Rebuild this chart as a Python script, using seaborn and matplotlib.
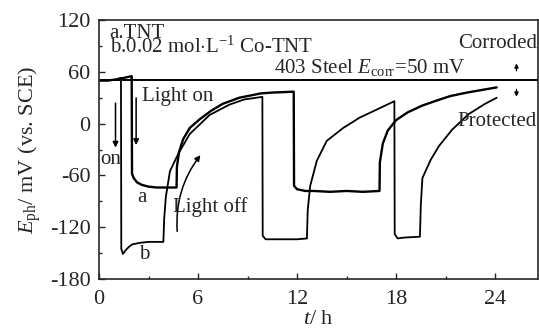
import matplotlib
matplotlib.use("Agg")
import matplotlib.pyplot as plt
import seaborn as sns
import pandas as pd

# ---- data ----
t_a = [0, 0.5, 1.0, 1.5, 1.98, 2.0, 2.1, 2.3, 2.6, 3.0, 3.5, 4.0, 4.7,
       4.72, 4.85, 5.1, 5.5, 6.1, 6.8, 7.5, 8.5, 9.8, 10.5, 11.8,
       11.82, 12.0, 12.5, 13.0, 14.0, 15.0, 16.0, 17.0,
       17.02, 17.2, 17.5, 18.0, 18.7, 19.6, 20.5, 21.3, 22.3, 23.2, 24.1]
E_a = [50, 50, 51, 53, 55, -58, -63, -68, -71, -73, -74, -74, -74,
       -50, -33, -18, -5, 5, 15, 23, 30, 35, 36, 37,
       -72, -76, -78, -78, -79, -78, -79, -78,
       -45, -23, -8, 4, 13, 21, 27, 32, 36, 39, 42]

t_b = [0, 0.5, 1.0, 1.33, 1.35, 1.45, 1.6, 1.8, 2.0, 2.5, 3.0, 3.9,
       3.95, 4.05, 4.3, 4.8, 5.5, 6.7, 7.9, 8.8, 9.9,
       9.92, 10.1, 11.0, 12.0, 12.6,
       12.65, 12.8, 13.2, 13.8, 14.8, 15.8, 16.8, 17.9,
       17.92, 18.1, 18.5, 19.45,
       19.5, 19.6, 20.1, 20.6, 21.4, 22.4, 23.4, 24.1]
E_b = [50, 50, 51, 53, -145, -151, -147, -143, -140, -138, -137, -137,
       -110, -85, -55, -35, -12, 10, 22, 28, 31,
       -130, -134, -134, -134, -133,
       -100, -72, -43, -20, -5, 7, 16, 26,
       -128, -133, -132, -131,
       -95, -63, -42, -26, -7, 11, 23, 30]

E_corr = 50

xticks = [0, 6, 12, 18, 24]
yticks = [-180, -120, -60, 0, 60, 120]

df = pd.concat([
    pd.DataFrame({"t": t_a, "E": E_a, "curve": "a"}),
    pd.DataFrame({"t": t_b, "E": E_b, "curve": "b"}),
], ignore_index=True)

# ---- style ----
sns.set_style("ticks")
plt.rcParams["font.family"] = ["Liberation Serif", "DejaVu Serif"]
plt.rcParams["mathtext.fontset"] = "custom"
plt.rcParams["mathtext.rm"] = "Liberation Serif"
plt.rcParams["mathtext.it"] = "Liberation Serif:italic"
plt.rcParams["axes.unicode_minus"] = False
plt.rcParams["xtick.direction"] = "in"
plt.rcParams["ytick.direction"] = "in"

fig = plt.figure(figsize=(5.39, 3.29), dpi=100)
ax = fig.add_axes([0.1837, 0.152, 0.8143, 0.787])

sns.lineplot(data=df[df.curve == "a"], x="t", y="E", sort=False, estimator=None,
             color="black", lw=1.7, ax=ax)
sns.lineplot(data=df[df.curve == "b"], x="t", y="E", sort=False, estimator=None,
             color="black", lw=1.3, ax=ax)
ax.axhline(E_corr, color="black", lw=1.4)

ax.set_xlim(0, 26.6)
ax.set_ylim(-180, 120)
ax.set_xticks(xticks)
ax.set_yticks(yticks)
ax.set_xticks([3, 9, 15, 21], minor=True)
ax.set_yticks([-150, -90, -30, 30, 90], minor=True)
ax.tick_params(which="major", length=4, width=1, labelsize=16)
ax.tick_params(axis="y", which="major", pad=6)
ax.tick_params(axis="x", which="major", pad=8)
ax.tick_params(which="minor", length=2.5, width=1)
for s in ax.spines.values():
    s.set_linewidth(1.2)

ax.set_xlabel(r"$t$/ h", fontsize=16, labelpad=1)
ax.set_ylabel(r"$E_{\mathrm{ph}}$/ mV (vs. SCE)", fontsize=16, labelpad=5)

fs = 15
ax.text(0.65, 82, "a.TNT\n" + r"b.0.02 mol$\cdot$L$^{-1}$ Co-TNT", fontsize=15,
        va="baseline", ha="left", linespacing=0.62)
ax.text(16.4, 59, r"403 Steel $E_{\mathrm{corr}}$=50 mV", fontsize=fs, ha="center", va="baseline")
ax.text(26.55, 93, "Corroded", fontsize=fs, ha="right", va="center")
ax.text(26.55, 2, "Protected", fontsize=fs, ha="right", va="center")
ax.text(2.6, 31, "Light on", fontsize=fs, ha="left", va="center")
ax.text(0.1, -42, "on", fontsize=fs, ha="left", va="center")
ax.text(4.5, -97, "Light off", fontsize=fs, ha="left", va="center")
ax.text(2.3, -86, "a", fontsize=fs, ha="left", va="center")
ax.text(2.45, -152, "b", fontsize=fs, ha="left", va="center")

arr = dict(arrowstyle="-|>", color="black", lw=1.1, mutation_scale=8)
ax.annotate("", xy=(1.0, -31), xytext=(1.0, 27), arrowprops=arr)
ax.annotate("", xy=(2.25, -28), xytext=(2.25, 33), arrowprops=arr)
ax.annotate("", xy=(6.25, -34), xytext=(4.75, -128),
            arrowprops=dict(arrowstyle="-|>", color="black", lw=1.1, mutation_scale=8,
                            connectionstyle="arc3,rad=-0.2"))
small = dict(arrowstyle="-|>", color="black", lw=0.9, mutation_scale=6)
ax.annotate("", xy=(25.3, 73), xytext=(25.3, 58), arrowprops=small)
ax.annotate("", xy=(25.3, 28), xytext=(25.3, 43), arrowprops=small)

fig.savefig("out.png", dpi=100)
